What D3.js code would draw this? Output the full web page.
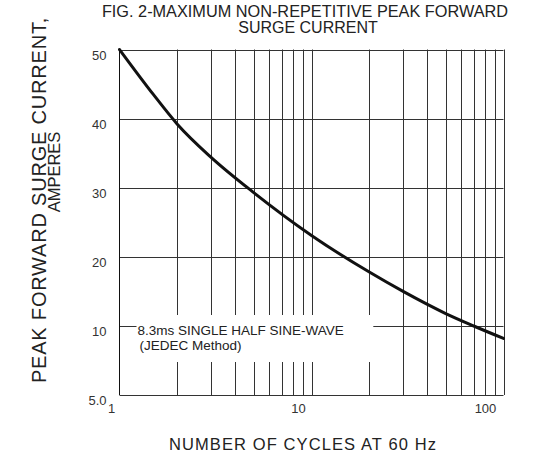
<!DOCTYPE html>
<html lang="en">
<head>
    <meta charset="UTF-8">
    <title>Surge current</title>
    <style>
        body { margin: 0; background: #fff; }
        svg { display: block; font-family: "Liberation Sans", Arial, sans-serif; }
    </style>
</head>
<body>
    <div id="chart"></div>
    <script src="https://d3js.org/d3.v7.min.js"></script>
    <script>
        // values
        const cycles = [1, 1.5, 2, 3, 5, 10, 20, 30, 50, 70, 100]
        const amps = [50, 43.5, 39.2, 34.4, 29.3, 23.1, 17.8, 15.0, 11.8, 10.0, 9.1]

        const yTicks = [5, 10, 20, 30, 40, 50]
        const yTickLabels = ['5.0', '10', '20', '30', '40', '50']
        const xTicks = [1, 10, 100]
        const xTickLabels = ['1', '10', '100']
        const xGrid = [2, 3, 4, 5, 6, 7, 8, 9, 10, 20, 30, 40, 50, 60, 70, 80, 90]

        const width = 534
        const height = 456
        const margin = { top: 49.5, right: 30.5, bottom: 61, left: 119.5 }

        const svg = d3.select('#chart')
            .append('svg')
            .attr('width', width)
            .attr('height', height)

        const xScale = d3.scaleLog()
            .domain([1, 100])
            .range([margin.left, width - margin.right])

        // bottom step 5 -> 10 gets the same height as each 10 step
        const yScale = d3.scaleLinear()
            .domain([5, 10, 50])
            .range([height - margin.bottom, height - margin.bottom - 69, margin.top])

        const gridColor = '#333'
        const grid = svg.append('g').attr('class', 'grid')

        grid.selectAll('.vline')
            .data(xGrid.concat([100]))
            .join('line')
            .attr('class', 'vline')
            .attr('x1', d => Math.round(xScale(d)) + 0.5)
            .attr('x2', d => Math.round(xScale(d)) + 0.5)
            .attr('y1', yScale(50))
            .attr('y2', yScale(5))
            .attr('stroke', gridColor)

        grid.selectAll('.hline')
            .data([10, 20, 30, 40, 50, 5])
            .join('line')
            .attr('class', 'hline')
            .attr('x1', xScale(1))
            .attr('x2', xScale(100))
            .attr('y1', d => Math.round(yScale(d)) + 0.5)
            .attr('y2', d => Math.round(yScale(d)) + 0.5)
            .attr('stroke', gridColor)

        // blank area behind the note
        const noteTop = yScale(10) - 11
        const noteBottom = yScale(10) + 36
        svg.append('rect')
            .attr('x', xScale(1) + 1)
            .attr('y', noteTop)
            .attr('width', xScale(20) + 3 - xScale(1))
            .attr('height', noteBottom - noteTop)
            .attr('fill', '#fff')

        svg.append('line')
            .attr('x1', xScale(1))
            .attr('x2', xScale(1) + 17)
            .attr('y1', Math.round(yScale(10)) + 0.5)
            .attr('y2', Math.round(yScale(10)) + 0.5)
            .attr('stroke', gridColor)

        // left border
        svg.append('line')
            .attr('x1', xScale(1))
            .attr('x2', xScale(1))
            .attr('y1', yScale(50))
            .attr('y2', yScale(5))
            .attr('stroke', '#111')

        const line = d3.line()
            .curve(d3.curveMonotoneX)
            .x((d, i) => xScale(cycles[i]))
            .y(d => yScale(d))

        svg.append('path')
            .datum(amps)
            .attr('fill', 'none')
            .attr('stroke', '#111')
            .attr('stroke-width', 3)
            .attr('stroke-linecap', 'round')
            .attr('d', line)

        // tick labels
        svg.selectAll('.ytick')
            .data(yTicks)
            .join('text')
            .attr('class', 'ytick')
            .attr('x', xScale(1) - 13)
            .attr('y', d => yScale(d) + 10)
            .attr('text-anchor', 'end')
            .attr('font-size', 13)
            .attr('fill', '#333')
            .text((d, i) => yTickLabels[i])

        svg.selectAll('.xtick')
            .data(xTicks)
            .join('text')
            .attr('class', 'xtick')
            .attr('x', (d, i) => xScale(d) - 3 - 5 * xTickLabels[i].length)
            .attr('y', yScale(5) + 18)
            .attr('text-anchor', 'middle')
            .attr('font-size', 13)
            .attr('fill', '#333')
            .text((d, i) => xTickLabels[i])

        // note
        const note = svg.append('g')
            .attr('font-size', 13.5)
            .attr('fill', '#222')
        note.append('text')
            .attr('x', xScale(1) + 18)
            .attr('y', yScale(10) + 9)
            .text('8.3ms SINGLE HALF SINE-WAVE')
        note.append('text')
            .attr('x', xScale(1) + 20)
            .attr('y', yScale(10) + 24)
            .text('(JEDEC Method)')

        // titles
        svg.append('text')
            .attr('x', 305)
            .attr('y', 17)
            .attr('text-anchor', 'middle')
            .attr('font-size', 16.3)
            .attr('fill', '#222')
            .text('FIG. 2-MAXIMUM NON-REPETITIVE PEAK FORWARD')
        svg.append('text')
            .attr('x', 308)
            .attr('y', 32.5)
            .attr('text-anchor', 'middle')
            .attr('font-size', 16)
            .attr('fill', '#222')
            .text('SURGE CURRENT')

        svg.append('text')
            .attr('transform', 'translate(45.5, 200) rotate(-90)')
            .attr('text-anchor', 'middle')
            .attr('font-size', 20)
            .attr('letter-spacing', 0.8)
            .attr('fill', '#222')
            .text('PEAK  FORWARD SURGE CURRENT,')
        svg.append('text')
            .attr('transform', 'translate(59.5, 172) rotate(-90)')
            .attr('text-anchor', 'middle')
            .attr('font-size', 16.5)
            .attr('fill', '#222')
            .text('AMPERES')

        svg.append('text')
            .attr('x', 303)
            .attr('y', 450)
            .attr('text-anchor', 'middle')
            .attr('font-size', 16.5)
            .attr('letter-spacing', 1.1)
            .attr('fill', '#222')
            .text('NUMBER OF CYCLES AT 60 Hz')
    </script>
</body>
</html>
